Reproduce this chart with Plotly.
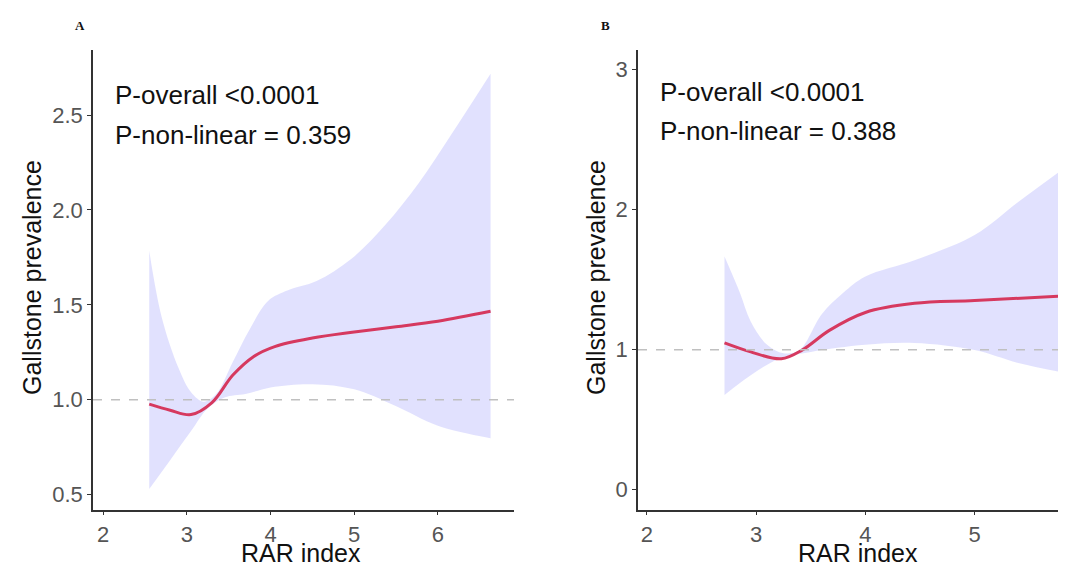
import plotly.graph_objects as go

# ---- Panel A data ----
a_x = [2.55, 2.8, 3.05, 3.3, 3.55, 3.8, 4.05, 4.5, 5.0, 5.5, 6.0, 6.63]
a_y = [0.977, 0.945, 0.922, 0.985, 1.13, 1.228, 1.28, 1.325, 1.357, 1.385, 1.414, 1.466]
a_up_x = [2.55, 2.7, 2.9, 3.05, 3.2, 3.35, 3.55, 3.75, 3.97, 4.2, 4.55, 4.96, 5.37, 5.77, 6.18, 6.63]
a_up_y = [1.785, 1.433, 1.167, 1.04, 0.99, 1.03, 1.2, 1.37, 1.52, 1.575, 1.625, 1.74, 1.92, 2.14, 2.41, 2.717]
a_lo_x = [2.55, 2.8, 3.05, 3.25, 3.45, 3.7, 4.0, 4.5, 5.0, 5.49, 6.0, 6.63]
a_lo_y = [0.53, 0.682, 0.835, 0.955, 1.012, 1.03, 1.065, 1.082, 1.055, 0.968, 0.863, 0.797]

# ---- Panel B data ----
b_x = [2.71, 2.95, 3.23, 3.42, 3.67, 4.0, 4.45, 5.0, 5.77]
b_y = [1.048, 0.984, 0.935, 0.997, 1.138, 1.266, 1.331, 1.351, 1.382]
b_up_x = [2.71, 2.85, 2.95, 3.1, 3.25, 3.4, 3.6, 3.8, 4.0, 4.45, 5.0, 5.39, 5.77]
b_up_y = [1.665, 1.408, 1.202, 1.035, 0.975, 1.0, 1.253, 1.408, 1.523, 1.639, 1.819, 2.05, 2.268]
b_lo_x = [2.71, 2.95, 3.2, 3.5, 4.0, 4.45, 5.0, 5.39, 5.77]
b_lo_y = [0.676, 0.817, 0.932, 0.984, 1.035, 1.048, 0.997, 0.907, 0.843]

a_ticks = [0.5, 1.0, 1.5, 2.0, 2.5]
a_ticktext = ["0.5", "1.0", "1.5", "2.0", "2.5"]
b_ticks = [0, 1, 2, 3]
x_ticks = [2, 3, 4, 5, 6]

LINE = "#D6395F"
FILL = "rgba(120,120,250,0.22)"
FONT = "Liberation Sans, Arial, sans-serif"

fig = go.Figure()

def add_panel(xref, yref, lx, ly, ux, uy, mx, my):
    fig.add_trace(go.Scatter(x=lx, y=ly, mode="lines", line=dict(width=0, shape="spline", color=FILL),
                             xaxis=xref, yaxis=yref, showlegend=False, hoverinfo="skip"))
    fig.add_trace(go.Scatter(x=ux, y=uy, mode="lines", fill="tonexty",
                             fillcolor=FILL, line=dict(width=0, shape="spline", color=FILL),
                             xaxis=xref, yaxis=yref, showlegend=False, hoverinfo="skip"))
    fig.add_trace(go.Scatter(x=mx, y=my, mode="lines", line=dict(width=3, shape="spline", color=LINE),
                             xaxis=xref, yaxis=yref, showlegend=False))

add_panel("x", "y", a_lo_x, a_lo_y, a_up_x, a_up_y, a_x, a_y)
add_panel("x2", "y2", b_lo_x, b_lo_y, b_up_x, b_up_y, b_x, b_y)

axis_common = dict(showline=True, linecolor="#333333", linewidth=1.5, ticks="outside", ticklen=4,
                   tickcolor="#333333", tickwidth=1.2, showgrid=False, zeroline=False,
                   tickfont=dict(family=FONT, size=22, color="#555555"))

ydom = [1 - 501.7 / 564, 1 - 41.7 / 564]
fig.update_layout(
    width=1066, height=564,
    margin=dict(l=0, r=0, t=0, b=0),
    plot_bgcolor="white", paper_bgcolor="white",
    xaxis=dict(domain=[85 / 1066, 506 / 1066], range=[1.878, 6.91], tickvals=x_ticks, anchor="y", **axis_common),
    yaxis=dict(domain=ydom, range=[0.421, 2.844], tickvals=a_ticks, ticktext=a_ticktext, anchor="x", **axis_common),
    xaxis2=dict(domain=[630 / 1066, 1.0], range=[1.918, 5.91], tickvals=x_ticks[:4], anchor="y2", **axis_common),
    yaxis2=dict(domain=ydom, range=[-0.143, 3.143], tickvals=b_ticks, anchor="x2", **axis_common),
)

for xr, yr in [("x domain", "y"), ("x2 domain", "y2")]:
    fig.add_shape(type="line", xref=xr, yref=yr, x0=0, x1=1, y0=1, y1=1,
                  line=dict(color="#C0C0C0", width=1.5, dash="dash"), layer="above")

ann_font = dict(family=FONT, size=26, color="#111111")
title_font = dict(family=FONT, size=25, color="#111111")
anns = [
    dict(x=105, y=87, text="P-overall <0.0001"),
    dict(x=105, y=127, text="P-non-linear = 0.359"),
    dict(x=650, y=84, text="P-overall <0.0001"),
    dict(x=650, y=123, text="P-non-linear = 0.388"),
]
for a in anns:
    fig.add_annotation(x=a["x"] / 1066, y=1 - a["y"] / 564, xref="paper", yref="paper", text=a["text"],
                       showarrow=False, xanchor="left", yanchor="middle", font=ann_font)

# axis titles
for cx, cy, txt, ang in [(293, 545, "RAR index", 0), (850, 545, "RAR index", 0),
                         (24, 270, "Gallstone prevalence", -90), (588, 270, "Gallstone prevalence", -90)]:
    fig.add_annotation(x=cx / 1066, y=1 - cy / 564, xref="paper", yref="paper", text=txt, textangle=ang,
                       showarrow=False, xanchor="center", yanchor="middle", font=title_font)

# panel letters
for cx, cy, txt in [(72, 17, "A"), (597, 18, "B")]:
    fig.add_annotation(x=cx / 1066, y=1 - cy / 564, xref="paper", yref="paper", text="<b>" + txt + "</b>",
                       showarrow=False, xanchor="center", yanchor="middle",
                       font=dict(family="Liberation Serif, Times New Roman, serif", size=13, color="#111111"))

fig.write_html("out.html")
